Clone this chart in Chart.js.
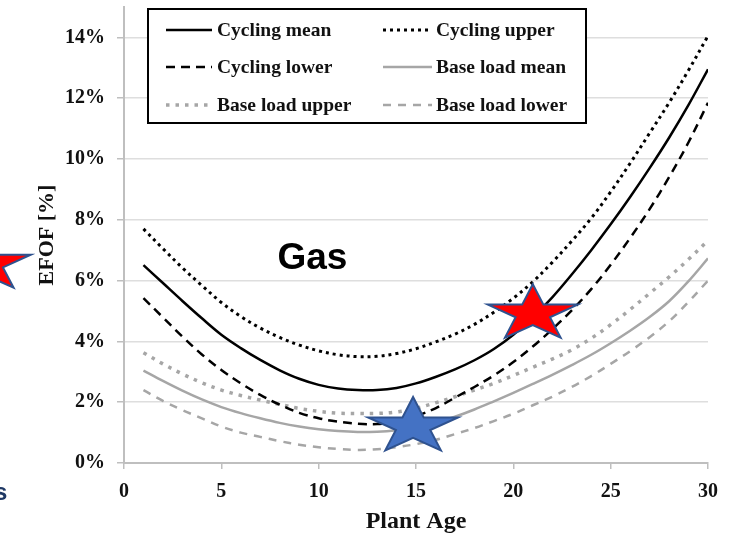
<!DOCTYPE html>
<html>
<head>
<meta charset="utf-8">
<title>EFOF vs plant age</title>
<script src="https://cdn.jsdelivr.net/npm/chart.js@4.4.1/dist/chart.umd.min.js"></script>
<style>
  html, body { margin: 0; padding: 0; background: #fff; }
  #wrap { width: 743px; height: 534px; position: relative; }
</style>
</head>
<body>
<div id="wrap"><canvas id="chart"></canvas></div>
<script>
// plant age, years
var ages = [1, 2, 3, 4, 5, 6, 7, 8, 9, 10, 11, 12, 13, 14, 15,
            16, 17, 18, 19, 20, 21, 22, 23, 24, 25, 26, 27, 28, 29, 30];

// EFOF in % for each age
var cyclingMean  = [6.51, 5.92, 5.33, 4.76, 4.22, 3.78, 3.39, 3.05, 2.77, 2.57, 2.45, 2.40, 2.40, 2.47, 2.62,
                    2.83, 3.08, 3.38, 3.75, 4.22, 4.80, 5.45, 6.20, 7.00, 7.85, 8.75, 9.70, 10.70, 11.78, 12.95];
var cyclingUpper = [7.70, 7.05, 6.42, 5.84, 5.28, 4.82, 4.44, 4.13, 3.88, 3.69, 3.56, 3.50, 3.51, 3.60, 3.76,
                    3.98, 4.24, 4.56, 4.96, 5.42, 5.96, 6.60, 7.30, 8.05, 8.92, 9.86, 10.85, 11.85, 12.92, 14.05];
var cyclingLower = [5.42, 4.79, 4.16, 3.57, 3.06, 2.62, 2.24, 1.92, 1.65, 1.47, 1.36, 1.29, 1.28, 1.36, 1.55,
                    1.80, 2.15, 2.50, 2.88, 3.32, 3.83, 4.40, 5.02, 5.72, 6.52, 7.40, 8.35, 9.40, 10.55, 11.85];
var baseMean     = [3.04, 2.70, 2.38, 2.09, 1.84, 1.64, 1.47, 1.32, 1.20, 1.11, 1.05, 1.02, 1.03, 1.08, 1.17,
                    1.32, 1.52, 1.76, 2.03, 2.31, 2.60, 2.90, 3.22, 3.56, 3.94, 4.35, 4.80, 5.32, 5.98, 6.73];
var baseUpper    = [3.63, 3.26, 2.93, 2.64, 2.40, 2.22, 2.07, 1.93, 1.79, 1.70, 1.64, 1.63, 1.63, 1.68, 1.80,
                    1.98, 2.18, 2.40, 2.62, 2.88, 3.15, 3.42, 3.72, 4.10, 4.55, 5.05, 5.58, 6.12, 6.70, 7.32];
var baseLower    = [2.40, 2.04, 1.74, 1.47, 1.20, 1.00, 0.86, 0.72, 0.60, 0.52, 0.46, 0.43, 0.45, 0.52, 0.62,
                    0.76, 0.95, 1.15, 1.38, 1.62, 1.90, 2.18, 2.50, 2.86, 3.26, 3.68, 4.14, 4.66, 5.30, 6.00];

// star markers (age, EFOF %)
var starAges = [21.0, 14.85, -7.1];
var starEfof = [4.91, 1.2, 6.55];
var starFills = ['#ff0000', '#4472c4', '#ff0000'];

var yTicks = [0, 2, 4, 6, 8, 10, 12, 14];
var xTicks = [0, 5, 10, 15, 20, 25, 30];

var serif = '"Liberation Serif", "Times New Roman", serif';
var GRAY = '#a6a6a6';

function pts(vals) {
    return ages.map(function (a, i) { return { x: a, y: vals[i] }; });
}

function drawStar(ctx, cx, cy, rx, ry, fill) {
    ctx.beginPath();
    for (var k = 0; k < 10; k++) {
        var ang = -Math.PI / 2 + k * Math.PI / 5;
        var r = k % 2 ? 0.382 : 1;
        var px = cx + Math.cos(ang) * rx * r, py = cy + Math.sin(ang) * ry * r;
        if (k) ctx.lineTo(px, py); else ctx.moveTo(px, py);
    }
    ctx.closePath();
    ctx.fillStyle = fill;
    ctx.fill();
    ctx.lineWidth = 2;
    ctx.strokeStyle = '#2f528f';
    ctx.stroke();
}

// no extra room around the axes, the chart area is set by layout padding
function noPad(s) {
    s.paddingTop = 0; s.paddingBottom = 0; s.paddingLeft = 0; s.paddingRight = 0;
}

// boxed two-column legend, "Gas" label and the stars
var extras = {
    id: 'extras',
    afterDraw: function (chart) {
        var ctx = chart.ctx;
        var xs = chart.scales.x, ys = chart.scales.y;
        ctx.save();

        // legend box
        ctx.fillStyle = '#fff';
        ctx.fillRect(148, 9, 438, 114);
        ctx.lineWidth = 2;
        ctx.strokeStyle = '#000';
        ctx.strokeRect(148, 9, 438, 114);
        var cols = [{ sx: 166, ex: 212, tx: 217 }, { sx: 383, ex: 432, tx: 436 }];
        var rows = [30, 67, 105];
        chart.data.datasets.forEach(function (ds, i) {
            var c = cols[i % 2], y = rows[Math.floor(i / 2)];
            ctx.beginPath();
            ctx.setLineDash(ds.borderDash || []);
            ctx.lineWidth = ds.borderWidth;
            ctx.strokeStyle = ds.borderColor;
            ctx.moveTo(c.sx, y);
            ctx.lineTo(c.ex, y);
            ctx.stroke();
            ctx.setLineDash([]);
            ctx.fillStyle = '#111';
            ctx.font = 'bold 19.5px ' + serif;
            ctx.textAlign = 'left';
            ctx.textBaseline = 'middle';
            ctx.fillText(ds.label, c.tx, y + 1);
        });

        // fuel label
        ctx.fillStyle = '#000';
        ctx.font = 'bold 37px "Liberation Sans", Arial, sans-serif';
        ctx.textAlign = 'center';
        ctx.textBaseline = 'alphabetic';
        ctx.fillText('Gas', xs.getPixelForValue(9.68), ys.getPixelForValue(6.37));

        // cut-off letter from the neighbouring panel
        ctx.fillStyle = '#1f3864';
        ctx.font = 'bold 24px "Liberation Sans", Arial, sans-serif';
        ctx.textAlign = 'left';
        ctx.fillText('s', -6, 500);

        for (var k = 0; k < starAges.length; k++) {
            drawStar(ctx, xs.getPixelForValue(starAges[k]), ys.getPixelForValue(starEfof[k]), 47.3, 29.5, starFills[k]);
        }
        ctx.restore();
    }
};

Chart.defaults.font.family = serif;

new Chart(document.getElementById('chart'), {
    type: 'line',
    data: {
        datasets: [
            { label: 'Cycling mean', data: pts(cyclingMean), borderColor: '#000', borderWidth: 2.5 },
            { label: 'Cycling upper', data: pts(cyclingUpper), borderColor: '#000', borderWidth: 3, borderDash: [3, 4] },
            { label: 'Cycling lower', data: pts(cyclingLower), borderColor: '#000', borderWidth: 2.5, borderDash: [9, 6] },
            { label: 'Base load mean', data: pts(baseMean), borderColor: GRAY, borderWidth: 2.5 },
            { label: 'Base load upper', data: pts(baseUpper), borderColor: GRAY, borderWidth: 3.5, borderDash: [3.5, 6] },
            { label: 'Base load lower', data: pts(baseLower), borderColor: GRAY, borderWidth: 2.5, borderDash: [8, 7] }
        ]
    },
    options: {
        responsive: true,
        maintainAspectRatio: false,
        animation: false,
        devicePixelRatio: 1,
        layout: { padding: { top: 7, right: 35, bottom: 0, left: 0 } },
        elements: {
            point: { radius: 0 },
            line: { tension: 0.35, fill: false }
        },
        plugins: {
            legend: { display: false },
            tooltip: { enabled: false }
        },
        scales: {
            x: {
                type: 'linear',
                min: 0,
                max: 30,
                afterFit: function (s) { s.height = 71; noPad(s); },
                afterBuildTicks: function (s) { s.ticks = xTicks.map(function (v) { return { value: v }; }); },
                border: { color: '#bfbfbf', width: 2 },
                grid: { drawOnChartArea: false, drawTicks: true, tickLength: 6, tickColor: '#bfbfbf', lineWidth: 1.5 },
                ticks: { color: '#111', padding: 11, font: { size: 20, weight: 'bold' } },
                title: {
                    display: true, text: 'Plant Age', color: '#111',
                    font: { size: 24, weight: 'bold', lineHeight: 1 }, padding: { top: 0, bottom: 0 }
                }
            },
            y: {
                min: 0,
                max: 15,
                afterFit: function (s) { s.width = 124; noPad(s); },
                afterBuildTicks: function (s) { s.ticks = yTicks.map(function (v) { return { value: v }; }); },
                border: { color: '#bfbfbf', width: 2 },
                grid: {
                    color: function (c) { return c.tick && c.tick.value === 0 ? 'rgba(0,0,0,0)' : '#dedede'; },
                    lineWidth: 1.5, drawTicks: true, tickLength: 7, tickColor: '#bfbfbf'
                },
                ticks: {
                    color: '#111', padding: 12, font: { size: 20, weight: 'bold' },
                    callback: function (v) { return v + '%'; }
                },
                title: {
                    display: true, text: 'EFOF [%]', color: '#111',
                    font: { size: 22, weight: 'bold', lineHeight: 1 }, padding: { top: 36, bottom: 0 }
                }
            }
        }
    },
    plugins: [extras]
});
</script>
</body>
</html>
